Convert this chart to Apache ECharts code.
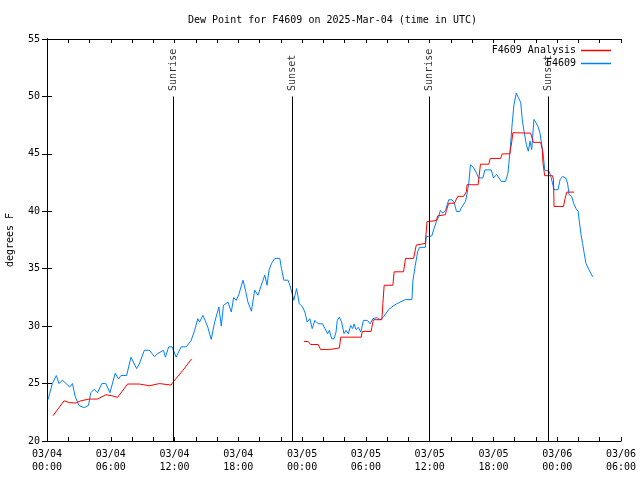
<!DOCTYPE html>
<html>
<head>
<meta charset="utf-8">
<script src="https://cdn.jsdelivr.net/npm/echarts@6/dist/echarts.min.js"></script>
<style>html,body{margin:0;padding:0;background:#fff}#c{width:640px;height:480px}</style>
</head>
<body>
<div id="c"></div>
<script>
// Hours since 03/04 00:00 UTC
const titleText = 'Dew Point for F4609 on 2025-Mar-04 (time in UTC)';
const yAxisName = 'degrees F';
const xTickLabels = ['03/04\n00:00','03/04\n06:00','03/04\n12:00','03/04\n18:00','03/05\n00:00','03/05\n06:00','03/05\n12:00','03/05\n18:00','03/06\n00:00','03/06\n06:00'];
const eventNames = ['Sunrise','Sunset','Sunrise','Sunset'];
const eventHours = [11.9, 23.08, 35.97, 47.2];

const obsSeries = [[0.1,23.6],[0.5,25.0],[0.88,25.7],[1.13,25.0],[1.45,25.3],[1.8,25.0],[2.14,24.7],[2.4,25.0],[2.64,23.9],[3.0,23.1],[3.5,22.9],[3.9,23.1],[4.12,24.2],[4.44,24.5],[4.75,24.2],[5.16,25.0],[5.54,25.0],[5.92,24.2],[6.42,25.9],[6.73,25.4],[6.96,25.7],[7.49,25.7],[7.9,27.3],[8.43,26.3],[8.68,26.7],[9.16,27.9],[9.63,27.9],[10.1,27.35],[10.4,27.6],[10.95,27.9],[11.14,27.3],[11.45,28.2],[11.77,28.2],[12.15,27.3],[12.62,28.2],[13.1,28.2],[13.56,28.75],[13.88,29.6],[14.19,30.65],[14.35,30.35],[14.66,30.94],[14.88,30.5],[15.13,29.9],[15.45,28.84],[15.77,30.35],[15.95,30.35],[16.17,31.66],[16.4,30.0],[16.6,31.8],[17.02,32.1],[17.34,31.23],[17.56,32.5],[17.8,32.25],[18.03,32.7],[18.44,34.0],[18.7,33.0],[18.9,32.1],[19.23,31.3],[19.54,33.13],[19.85,32.7],[20.0,32.7],[20.27,33.86],[20.49,34.44],[20.7,33.56],[20.89,34.88],[21.12,35.46],[21.43,35.9],[21.9,35.9],[22.06,35.0],[22.28,34.0],[22.68,34.0],[22.85,33.56],[23.1,32.7],[23.22,32.25],[23.48,33.27],[23.73,31.96],[24.04,31.67],[24.26,31.23],[24.48,30.35],[24.73,30.65],[24.95,29.78],[25.2,30.5],[25.52,30.2],[25.93,30.2],[26.15,29.78],[26.4,29.34],[26.56,29.63],[26.78,28.9],[27.0,28.9],[27.19,29.48],[27.31,30.5],[27.5,30.79],[27.72,30.35],[27.94,29.34],[28.13,29.63],[28.35,29.34],[28.57,30.06],[28.76,29.78],[28.89,30.2],[29.07,29.7],[29.29,29.9],[29.52,29.48],[29.77,30.5],[30.14,30.5],[30.4,30.2],[30.65,30.65],[31.03,30.74],[31.34,30.56],[31.65,30.79],[32.13,31.43],[32.44,31.67],[32.92,31.96],[33.7,32.31],[34.33,32.31],[34.43,34.0],[34.65,35.3],[34.87,36.48],[35.05,36.86],[35.59,36.86],[35.68,37.8],[35.9,37.8],[36.2,37.85],[36.37,38.38],[36.63,39.1],[36.85,39.54],[37.0,40.06],[37.26,39.84],[37.5,40.1],[37.79,41.0],[38.1,41.0],[38.33,40.7],[38.52,39.98],[38.83,39.98],[38.96,40.27],[39.37,40.85],[39.53,41.6],[39.68,42.46],[39.84,44.06],[40.15,43.77],[40.4,43.34],[40.62,42.9],[41.0,42.9],[41.2,43.6],[41.8,43.6],[42.0,42.9],[42.3,43.2],[42.74,42.6],[43.14,42.6],[43.36,43.3],[43.55,45.1],[43.77,47.7],[43.93,49.3],[44.15,50.3],[44.34,49.9],[44.56,49.5],[44.71,48.0],[44.87,47.0],[45.1,45.8],[45.28,45.23],[45.44,46.1],[45.6,45.38],[45.81,48.0],[45.97,47.85],[46.19,47.4],[46.38,46.8],[46.54,45.8],[46.7,44.8],[46.82,43.6],[47.0,43.57],[47.24,43.48],[47.4,43.04],[47.55,42.46],[47.7,41.88],[48.08,41.88],[48.27,42.75],[48.5,43.04],[48.8,42.9],[48.97,42.46],[49.12,41.44],[49.35,41.3],[49.54,40.71],[49.75,40.27],[49.97,39.98],[50.06,39.25],[50.22,38.08],[50.38,37.2],[50.54,36.34],[50.7,35.46],[51.0,34.88],[51.33,34.3]];

const analysisPart1 = [[0.57,22.2],[1.6,23.5],[2.08,23.35],[2.7,23.3],[3.18,23.5],[3.96,23.65],[4.75,23.65],[5.54,24.03],[6.1,23.94],[6.64,23.8],[7.58,24.96],[8.68,24.96],[9.63,24.81],[10.57,25.0],[11.68,24.87],[11.83,25.1],[12.77,26.13],[13.6,27.15]];
const analysisPart2 = [[24.17,28.66],[24.58,28.66],[24.8,28.4],[25.52,28.4],[25.74,27.96],[26.56,27.96],[26.69,28.1],[27.5,28.1],[27.64,29.04],[29.55,29.04],[29.67,29.54],[30.49,29.54],[30.56,29.9],[30.71,30.56],[31.5,30.56],[31.6,32.0],[31.72,33.56],[32.54,33.56],[32.66,34.73],[33.54,34.73],[33.73,35.9],[34.49,35.9],[34.74,37.06],[35.59,37.2],[35.75,39.1],[36.63,39.19],[36.75,39.6],[37.48,39.7],[37.57,40.06],[37.79,40.7],[38.33,40.7],[38.64,41.3],[39.2,41.3],[39.46,41.73],[39.52,42.31],[40.56,42.31],[40.78,44.1],[41.56,44.1],[41.7,44.6],[42.67,44.6],[42.83,45.0],[43.55,45.0],[43.6,45.38],[43.71,45.96],[43.83,46.84],[45.5,46.8],[45.66,46.3],[45.76,46.0],[46.44,46.0],[46.6,45.38],[46.66,44.2],[46.82,43.1],[47.55,43.1],[47.65,42.75],[47.7,40.42],[48.59,40.42],[48.71,41.0],[48.9,41.67],[49.59,41.67]];

const FONT = "'DejaVu Sans Mono', 'Liberation Mono', monospace";
const chart = echarts.init(document.getElementById('c'), null, {renderer: 'canvas'});

const axisCommon = {
  axisLine: {show: true, lineStyle: {color: '#000', width: 1}},
  splitLine: {show: false}
};

chart.setOption({
  animation: false,
  backgroundColor: '#fff',
  title: {
    text: titleText, left: 183, top: 10,
    textStyle: {fontFamily: FONT, fontSize: 10, fontWeight: 'normal', color: '#000'}
  },
  legend: {
    data: ['F4609 Analysis', 'F4609'],
    orient: 'vertical', right: 24, top: 40, align: 'right',
    icon: 'rect', itemWidth: 30, itemHeight: 1.5, itemGap: 2,
    textStyle: {fontFamily: FONT, fontSize: 10, color: '#000', lineHeight: 11}
  },
  grid: {left: 47, right: 19, top: 39, bottom: 39, outerBoundsMode: 'none', containLabel: false},
  xAxis: [{
    type: 'value', min: 0, max: 54, interval: 2, position: 'bottom',
    ...axisCommon,
    axisTick: {show: true, inside: true, length: 4, lineStyle: {color: '#000'}},
    axisLabel: {
      fontFamily: FONT, fontSize: 10, color: '#000', margin: 7, lineHeight: 13,
      showMinLabel: true, showMaxLabel: true,
      formatter: v => (v % 6 === 0 ? xTickLabels[v / 6] : '')
    }
  }, {
    type: 'value', min: 0, max: 54, interval: 2, position: 'top',
    ...axisCommon,
    axisTick: {show: true, inside: true, length: 4, lineStyle: {color: '#000'}},
    axisLabel: {show: false}
  }],
  yAxis: [{
    type: 'value', min: 20, max: 55, interval: 5, position: 'left',
    ...axisCommon,
    name: yAxisName, nameLocation: 'middle', nameGap: 32,
    nameTextStyle: {fontFamily: FONT, fontSize: 10, color: '#000'},
    axisTick: {show: true, inside: true, length: 5, lineStyle: {color: '#000'}},
    axisLabel: {fontFamily: FONT, fontSize: 10, color: '#000', margin: 7}
  }, {
    type: 'value', min: 20, max: 55, interval: 5, position: 'right',
    ...axisCommon,
    axisTick: {show: true, inside: true, length: 5, lineStyle: {color: '#000'}},
    axisLabel: {show: false}
  }],
  series: [{
    name: 'F4609 Analysis', type: 'line',
    data: analysisPart1.concat([[18, '-']], analysisPart2),
    symbol: 'none', connectNulls: false,
    lineStyle: {color: '#ff0000', width: 1}, itemStyle: {color: '#ff0000'},
    z: 3
  }, {
    name: 'F4609', type: 'line', data: obsSeries,
    symbol: 'none',
    lineStyle: {color: '#0080ff', width: 1}, itemStyle: {color: '#0080ff'},
    z: 2,
    markLine: {
      silent: true, symbol: ['none', 'none'], animation: false,
      label: {show: false},
      lineStyle: {color: '#000', width: 1, type: 'solid'},
      emphasis: {disabled: true},
      data: eventHours.map(h => [{coord: [h, 20]}, {coord: [h, 50]}])
    }
  }, {
    name: 'events', type: 'scatter', symbolSize: 1,
    itemStyle: {color: 'rgba(0,0,0,0)'},
    data: eventHours.map(h => [h, 50]),
    label: {
      show: true, rotate: 90, position: [0.5, -5],
      align: 'left', verticalAlign: 'middle',
      fontFamily: FONT, fontSize: 10, color: '#000',
      formatter: p => eventNames[p.dataIndex]
    },
    silent: true, z: 4
  }]
});
</script>
</body>
</html>
